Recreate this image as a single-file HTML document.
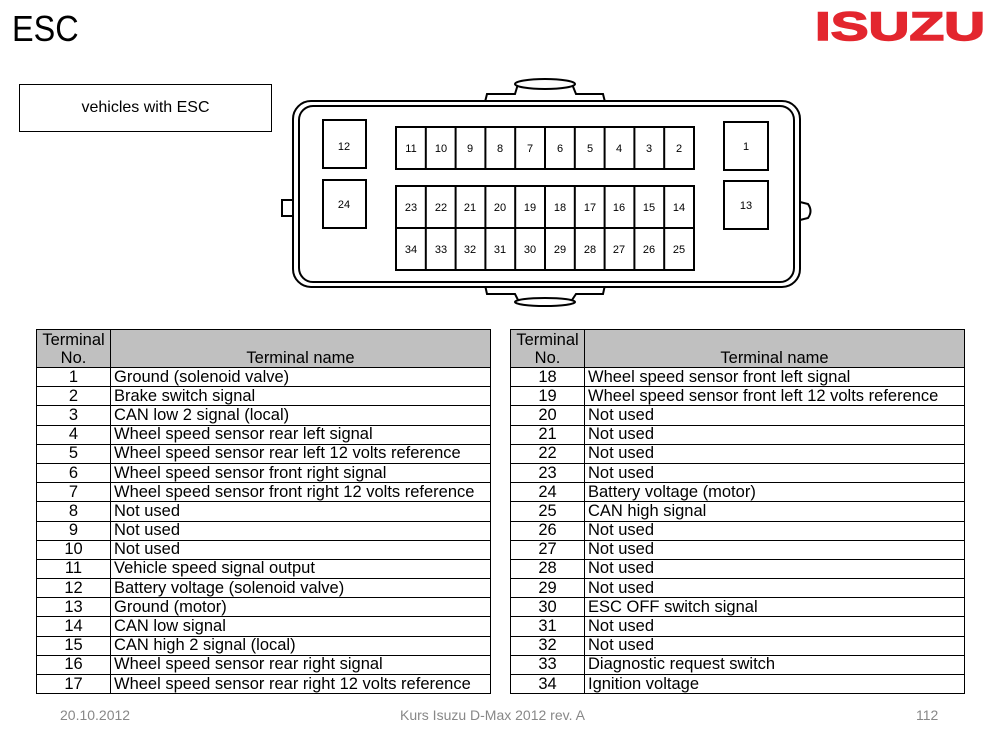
<!DOCTYPE html>
<html><head><meta charset="utf-8"><style>
body{margin:0;width:1000px;height:750px;background:#fff;position:relative;overflow:hidden;font-family:"Liberation Sans",sans-serif}
.a{position:absolute}
table{position:absolute;border-collapse:collapse;font-size:16.5px;table-layout:fixed}
td{border:1px solid #000;padding:0 3px;height:18.2px;line-height:17px;white-space:nowrap;overflow:hidden}
td.n{text-align:center}
tr.h td{background:#c0c0c0;height:37px;line-height:18px;vertical-align:bottom}
</style></head><body>
<div class="a" style="left:12px;top:8px;font-size:36px;transform:scaleX(0.9);transform-origin:left">ESC</div>
<svg class="a" style="left:810px;top:8px" width="180" height="40"><text x="5" y="32" font-family="Liberation Sans" font-weight="bold" font-size="40" fill="#e3262e" stroke="#e3262e" stroke-width="1.5" textLength="170" lengthAdjust="spacingAndGlyphs">ISUZU</text></svg>
<div class="a" style="left:19px;top:84px;width:251px;height:46px;border:1px solid #000;text-align:center;line-height:46px;font-size:16px">vehicles with ESC</div>
<svg class="a" style="left:0;top:0" width="1000" height="320">
<g fill="#fff" stroke="#000" stroke-width="2">
<path d="M485 102 L487 94 L515 94 L518 84 L572 84 L576 94 L603 94 L605 102 Z"/>
<ellipse cx="545" cy="84" rx="30" ry="5"/>
<path d="M485 285 L487 294 L515 294 L518 300 L572 300 L576 294 L603 294 L605 285 Z"/>
<ellipse cx="545" cy="302" rx="30" ry="4"/>
<path d="M293 200 L282 200 L282 216 L293 216"/>
<path d="M800 202 L808 204 Q813 211 808 218 L800 220"/>
<rect x="293" y="101" width="507" height="186" rx="18"/>
<rect x="299" y="106" width="495" height="176" rx="14"/>
<rect x="323" y="120" width="43" height="48"/>
<rect x="323" y="180" width="43" height="48"/>
<rect x="724" y="122" width="44" height="48"/>
<rect x="724" y="181" width="44" height="48"/>
<rect x="396" y="127" width="298" height="42"/>
<rect x="396" y="186" width="298" height="84"/>
<path d="M396 228 H694 M425.8 127 V169 M455.6 127 V169 M485.4 127 V169 M515.2 127 V169 M545 127 V169 M574.8 127 V169 M604.6 127 V169 M634.4 127 V169 M664.2 127 V169 M425.8 186 V270 M455.6 186 V270 M485.4 186 V270 M515.2 186 V270 M545 186 V270 M574.8 186 V270 M604.6 186 V270 M634.4 186 V270 M664.2 186 V270"/>
</g>
<g font-family="Liberation Sans" font-size="11" text-anchor="middle">
<text x="344" y="150">12</text><text x="344" y="208">24</text><text x="746" y="150">1</text><text x="746" y="209">13</text>
<text x="411" y="152">11</text><text x="441" y="152">10</text><text x="470" y="152">9</text><text x="500" y="152">8</text><text x="530" y="152">7</text><text x="560" y="152">6</text><text x="590" y="152">5</text><text x="619" y="152">4</text><text x="649" y="152">3</text><text x="679" y="152">2</text>
<text x="411" y="211">23</text><text x="441" y="211">22</text><text x="470" y="211">21</text><text x="500" y="211">20</text><text x="530" y="211">19</text><text x="560" y="211">18</text><text x="590" y="211">17</text><text x="619" y="211">16</text><text x="649" y="211">15</text><text x="679" y="211">14</text>
<text x="411" y="253">34</text><text x="441" y="253">33</text><text x="470" y="253">32</text><text x="500" y="253">31</text><text x="530" y="253">30</text><text x="560" y="253">29</text><text x="590" y="253">28</text><text x="619" y="253">27</text><text x="649" y="253">26</text><text x="679" y="253">25</text>
</g>
</svg>
<table style="left:36px;top:329px;width:455px"><colgroup><col style="width:74px"><col></colgroup>
<tr class="h"><td class="n">Terminal<br>No.</td><td style="text-align:center">Terminal name</td></tr>
<tr><td class="n">1</td><td>Ground (solenoid valve)</td></tr>
<tr><td class="n">2</td><td>Brake switch signal</td></tr>
<tr><td class="n">3</td><td>CAN low 2 signal (local)</td></tr>
<tr><td class="n">4</td><td>Wheel speed sensor rear left signal</td></tr>
<tr><td class="n">5</td><td>Wheel speed sensor rear left 12 volts reference</td></tr>
<tr><td class="n">6</td><td>Wheel speed sensor front right signal</td></tr>
<tr><td class="n">7</td><td>Wheel speed sensor front right 12 volts reference</td></tr>
<tr><td class="n">8</td><td>Not used</td></tr>
<tr><td class="n">9</td><td>Not used</td></tr>
<tr><td class="n">10</td><td>Not used</td></tr>
<tr><td class="n">11</td><td>Vehicle speed signal output</td></tr>
<tr><td class="n">12</td><td>Battery voltage (solenoid valve)</td></tr>
<tr><td class="n">13</td><td>Ground (motor)</td></tr>
<tr><td class="n">14</td><td>CAN low signal</td></tr>
<tr><td class="n">15</td><td>CAN high 2 signal (local)</td></tr>
<tr><td class="n">16</td><td>Wheel speed sensor rear right signal</td></tr>
<tr><td class="n">17</td><td>Wheel speed sensor rear right 12 volts reference</td></tr>
</table>
<table style="left:510px;top:329px;width:455px"><colgroup><col style="width:74px"><col></colgroup>
<tr class="h"><td class="n">Terminal<br>No.</td><td style="text-align:center">Terminal name</td></tr>
<tr><td class="n">18</td><td>Wheel speed sensor front left signal</td></tr>
<tr><td class="n">19</td><td>Wheel speed sensor front left 12 volts reference</td></tr>
<tr><td class="n">20</td><td>Not used</td></tr>
<tr><td class="n">21</td><td>Not used</td></tr>
<tr><td class="n">22</td><td>Not used</td></tr>
<tr><td class="n">23</td><td>Not used</td></tr>
<tr><td class="n">24</td><td>Battery voltage (motor)</td></tr>
<tr><td class="n">25</td><td>CAN high signal</td></tr>
<tr><td class="n">26</td><td>Not used</td></tr>
<tr><td class="n">27</td><td>Not used</td></tr>
<tr><td class="n">28</td><td>Not used</td></tr>
<tr><td class="n">29</td><td>Not used</td></tr>
<tr><td class="n">30</td><td>ESC OFF switch signal</td></tr>
<tr><td class="n">31</td><td>Not used</td></tr>
<tr><td class="n">32</td><td>Not used</td></tr>
<tr><td class="n">33</td><td>Diagnostic request switch</td></tr>
<tr><td class="n">34</td><td>Ignition voltage</td></tr>
</table>
<div class="a" style="left:60px;top:707px;font-size:14px;color:#888">20.10.2012</div>
<div class="a" style="left:400px;top:707px;font-size:14px;color:#888">Kurs Isuzu D-Max 2012 rev. A</div>
<div class="a" style="left:916px;top:707px;font-size:14px;color:#888">112</div>
</body></html>
